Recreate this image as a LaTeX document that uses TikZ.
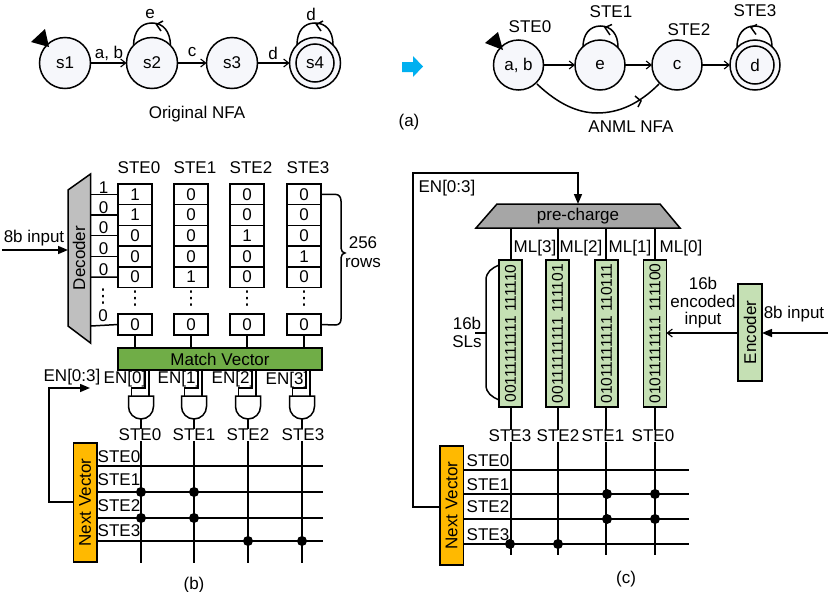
\documentclass[tikz,border=0pt]{standalone}
\usepackage{fontspec}
\setmainfont{Liberation Sans}
\newfontfamily\dejavu{DejaVu Sans}
\usetikzlibrary{arrows.meta}
\definecolor{nodefill}{HTML}{F6F7FB}
\definecolor{decgray}{HTML}{BFBFBF}
\definecolor{pregray}{HTML}{A6A6A6}
\definecolor{mvgreen}{HTML}{70AD47}
\definecolor{lgreen}{HTML}{C5E0B4}
\definecolor{nvorange}{HTML}{FFB900}
\definecolor{arrowblue}{HTML}{00B0F0}
\newcommand{\vdotsglyph}{{\dejavu\fontsize{19}{19}\selectfont ⋮}}
\tikzset{
  x=1pt,y=-1pt,
  every node/.style={font=\fontsize{17}{19}\selectfont,inner sep=0pt,outer sep=0pt},
  wire/.style={line width=1.5pt},
  openarrow/.style={wire,-{Straight Barb[length=5pt,width=8pt,line width=1.1pt]}},
  fillarrow/.style={wire,-{Triangle[length=10pt,width=8pt]}},
  state/.style={circle,draw,line width=1.5pt,fill=nodefill,minimum size=#1},
  state/.default=51pt,
  inner/.style={circle,draw,line width=1.5pt,fill=nodefill,minimum size=#1},
  cell/.style={draw,line width=1.5pt,fill=white,minimum width=34pt,minimum height=20.7pt},
  barbox/.style={draw,line width=1.5pt,fill=lgreen,minimum width=147pt,minimum height=23pt,rotate=90},
  nvbox/.style={draw,line width=1.5pt,fill=nvorange,rotate=90,minimum width=119pt,minimum height=23.5pt},
  junction/.style={circle,fill=black,minimum size=10pt},
  cover/.style={fill=white,inner xsep=0.5pt,inner ysep=0pt},
  andgate/.style={line width=1.5pt,fill=white,draw},
}
\begin{document}
\begin{tikzpicture}
\useasboundingbox (0,0) rectangle (831,592);
% ---------- original NFA
\node[state] (s1) at (65,63) {s1};
\node[state] (s2) at (152,63) {s2};
\node[state] (s3) at (232,63) {s3};
\node[state] (s4) at (315,63) {};
\node[inner=38pt] (s4i) at (315,63) {s4};
\fill (31,42) -- (45,29) -- (49,47) -- cycle;
\draw[openarrow] (s1) -- (s2);
\draw[openarrow] (s2) -- (s3);
\draw[openarrow] (s3) -- (s4);
\coordinate (s2a) at (133.5,45);
\coordinate (s2b) at (170.5,45);
\coordinate (s4a) at (297,45);
\coordinate (s4b) at (333,45);
\draw[wire] (s2b) .. controls (170,31) and (163,23) .. (152,23) .. controls (141,23) and (134,31) .. (s2a);
\draw[wire] (163,21) -- (156.5,24.5) -- (161,31);
\draw[wire] (s4b) .. controls (333,31) and (326,23) .. (315,23) .. controls (304,23) and (297,31) .. (s4a);
\draw[wire] (323,21) -- (316.5,24.5) -- (321,31);
\node (l1) at (109,53) {a, b};
\node (l2) at (192,52) {c};
\node (l3) at (273,53) {d};
\node (l4) at (150,14) {e};
\node (l5) at (311,14) {d};
\node (t1) at (197,114) {Original NFA};
\node (t2) at (409,122) {(a)};
\fill[arrowblue] (402,62) -- (413,62) -- (413,56) -- (423,66.5) -- (413,77) -- (413,72) -- (402,72) -- cycle;
% ---------- ANML NFA
\node[state=50pt] (a0) at (518.5,65) {a, b};
\node[state=50pt] (a1) at (600,65) {e};
\node[state=50pt] (a2) at (677,65) {c};
\node[state=50pt] (a3) at (755,65) {};
\node[inner=38pt] (a3i) at (755,65) {d};
\fill (485,43) -- (498,32) -- (503,50) -- cycle;
\draw[openarrow] (a0) -- (a1);
\draw[openarrow] (a1) -- (a2);
\draw[openarrow] (a2) -- (a3);
\coordinate (a1a) at (583,47);
\coordinate (a1b) at (618,47);
\coordinate (a3a) at (737,47);
\coordinate (a3b) at (772,47);
\draw[wire] (a1b) .. controls (618,34) and (611,26) .. (600.5,26) .. controls (590,26) and (583,34) .. (a1a);
\draw[wire] (612,24.5) -- (605,27.5) -- (610,35);
\draw[wire] (a3b) .. controls (772,34) and (765,26) .. (754.5,26) .. controls (744,26) and (737,34) .. (a3a);
\draw[wire] (757,24.5) -- (751,27.5) -- (756,34.5);
\coordinate (ca) at (537,84);
\coordinate (cb) at (659,84);
\draw[wire] (ca) .. controls (558,104) and (578,113) .. (597,113) .. controls (620,113) and (640,103) .. (cb);
\draw[wire] (635,96) -- (641,101) -- (638,107);
\node (n0) at (530,27) {STE0};
\node (n1) at (611,12) {STE1};
\node (n2) at (689,30) {STE2};
\node (n3) at (755,11) {STE3};
\node (t3) at (631,127) {ANML NFA};
% ---------- panel b: decoder
\draw[line width=1.5pt,fill=decgray] (68,190) -- (90.5,174) -- (90.5,343) -- (68,326) -- cycle;
\node[rotate=90] (dec) at (79,258) {Decoder};
\coordinate (in8) at (2,250);
\coordinate (decin) at (68,250);
\draw[fillarrow] (in8) -- (decin);
\node (in8l) at (34,238) {8b input};
% cells
\foreach \cx/\vals/\nm [count=\c] in {135/{1,1,0,0,0}/STE0,191/{0,0,0,0,1}/STE1,247/{0,0,1,0,0}/STE2,304/{0,0,0,1,0}/STE3}{
  \foreach \v [count=\r] in \vals {
    \node[cell] (c\c-\r) at (\cx,{194.3+(\r-1)*20.7}) {\v};
  }
  \node[cell] (c\c-l) at (\cx,324.5) {0};
  \node at (\cx,299) {\vdotsglyph};
  \node at ({\cx+4},168) {\nm};
}
% decoder outputs
\foreach \y/\lab/\ly [count=\r] in {194.3/1/188,215/0/208,235.7/0/228,256.4/0/249,277.1/0/270}{
  \draw[wire] (91,\y) -- (c1-\r.west);
  \node at (103.5,\ly) {\lab};
}
\draw[wire] (91,326) -- (c1-l.west);
\node at (103,316) {0};
\node at (103,297) {\vdotsglyph};
% row brace
\draw[wire] (c4-1.east) -- (335,194.3) .. controls (339,194.3) and (341,197) .. (341,201) -- (341,248) .. controls (341,251) and (343,253) .. (345,253) .. controls (343,253) and (341,255) .. (341,258) -- (341,319) .. controls (341,323) and (339,325) .. (335,325) -- (c4-l.east);
\node at (363,243) {256};
\node at (363,263) {rows};
% match vector
\node[draw,line width=1.5pt,fill=mvgreen,minimum width=204pt,minimum height=22pt] (mv) at (220,359) {Match Vector};
\foreach \c in {1,2,3,4}{ \draw[wire] (c\c-l.south) -- (c\c-l.south |- mv.north); }
% AND gates
\foreach \gx [count=\g] in {141,194,248,302}{
  \coordinate (g\g) at (\gx,419);
  \draw[wire] (\gx+8,370) -- (\gx+8,397);
  \draw[wire] (\gx+4,370) -- (\gx+4,388) -- (\gx-9.5,388) -- (\gx-9.5,397);
  \draw[andgate] (\gx-12.5,396) -- (\gx+12.5,396) -- (\gx+12.5,406.5) arc[start angle=0,end angle=180,radius=12.5] -- cycle;
}
\node (en) at (72,377) {EN[0:3]};
\foreach \ex/\ey/\cn in {125/379/0,179/379/1,233/379/2,287/380/3}{
  \node at (\ex,\ey) {EN[\cn]};
}
% next vector b
\node[nvbox] (nvb) at (85,502.5) {Next Vector};
\coordinate (enb1) at (49,502);
\coordinate (enb2) at (49,388);
\coordinate (enb3) at (90,388);
\draw[fillarrow] (nvb.north |- enb1) -- (enb1) -- (enb2) -- (enb3);
\foreach \y in {466,492,518,541}{ \draw[wire] (97,\y) -- (323,\y); }
\foreach \gx [count=\g] in {141,194,248,302}{
  \draw[wire] (g\g) -- (\gx,563);
}
\foreach \lx/\nm in {140/STE0,194/STE1,248/STE2,303/STE3}{
  \node[cover] at (\lx,435) {\nm};
}
\node at (119,457) {STE0};
\node at (119,480) {STE1};
\node at (119,506) {STE2};
\node at (119,531) {STE3};
\foreach \p in {(141,492),(194,492),(141,518),(194,518),(248,541),(302,541)}{ \node[junction] at \p {}; }
\node at (194,585) {(b)};
% ---------- panel c
\draw[line width=1.5pt,fill=pregray] (497,204) -- (660,204) -- (680,228) -- (476,228) -- cycle;
\node (pc) at (578,216) {pre-charge};
\coordinate (pctop) at (578,204);
\node[nvbox] (nvc) at (451.5,505.5) {Next Vector};
\draw[fillarrow] (nvc.north |- 413,507) -- (413,507) -- (413,173) -- (578,173) -- (pctop);
\node at (447,188) {EN[0:3]};
\foreach \bx/\txt/\mx/\lx/\lb/\sx/\sn [count=\b] in {
  510.5/00111111111 111110/511/535/ML[3]/510/STE3,
  557.5/00111111111 111101/558/581/ML[2]/558/STE2,
  606.5/01011111111 110111/606/630/ML[1]/603/STE1,
  655/01011111111 111100/655/681/ML[0]/653/STE0}{
  \draw[wire] (\mx,228) -- (\mx,260);
  \node[barbox] (bar\b) at (\bx,333.5) {\fontsize{15.6}{17}\selectfont\txt};
  \draw[wire] (\mx,407) -- (\mx,555);
  \node at (\lx,248) {\lb};
  \node[cover] at (\sx,436) {\sn};
}
\foreach \y in {470,494,519,544}{ \draw[wire] (463,\y) -- (689,\y); }
\node at (488,461) {STE0};
\node at (488,485) {STE1};
\node at (488,507) {STE2};
\node at (488,535) {STE3};
\foreach \p in {(607,494),(655,494),(607,519),(655,519),(510,544),(558,544)}{ \node[junction] at \p {}; }
\node at (626,579) {(c)};
% SL brace
\draw[wire] (499,265) .. controls (492,268) and (486,272) .. (486,280) -- (486,385) .. controls (486,393) and (492,397) .. (499,400);
\draw[wire] (475,333) -- (486,333);
\node at (467,323) {16b};
\node at (467,342) {SLs};
% encoder
\node[draw,line width=1.5pt,fill=lgreen,rotate=90,minimum width=97pt,minimum height=24pt] (enc) at (750,332.5) {Encoder};
\coordinate (in8c) at (828,333);
\draw[fillarrow] (in8c) -- (enc.south |- in8c);
\draw[openarrow] (enc.north |- 0,333) -- (bar4.south |- 0,333);
\node at (794,314) {8b input};
\node at (703,283) {16b};
\node at (703,301) {encoded};
\node at (703,320) {input};
\end{tikzpicture}
\end{document}
